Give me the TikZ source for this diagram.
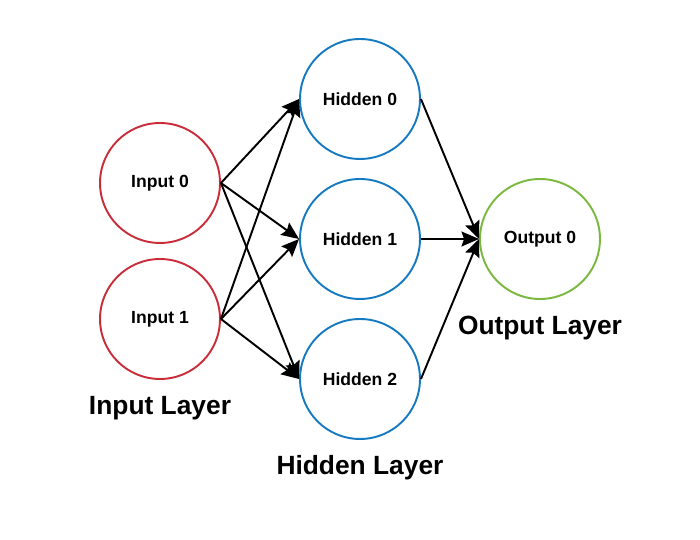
\documentclass[tikz,border=0pt]{standalone}
\usepackage{fontspec}
\setmainfont{Liberation Sans}
\usetikzlibrary{arrows.meta}

\definecolor{inred}{RGB}{201,45,58}
\definecolor{hidblue}{RGB}{22,122,193}
\definecolor{outgreen}{RGB}{122,184,62}

\begin{document}
\begin{tikzpicture}
[
	              x = 0.02cm,
	              y = -0.02cm,
	           >= {Stealth[length=10pt,width=8.5pt,inset=1.5pt]},
	  neuron/.style = { draw, circle, line width=1.1pt, minimum size=2.4cm, inner sep=0pt, font=\fontsize{10}{12}\selectfont\bfseries },
	   layer/.style = { font=\fontsize{15}{18}\selectfont\bfseries },
	    link/.style = { ->, line width=1.1pt }
]
	\useasboundingbox (0,0) rectangle (700,540);

	% input layer
	\node (I0) at (160,183) [neuron, draw=inred] {Input 0};
	\node (I1) at (160,319) [neuron, draw=inred] {Input 1};
	\node (LI) at (160,408) [layer] {Input Layer};

	% hidden layer
	\node (H0) at (360,99) [neuron, draw=hidblue] {Hidden 0};
	\node (H1) at (360,239) [neuron, draw=hidblue] {Hidden 1};
	\node (H2) at (360,379) [neuron, draw=hidblue] {Hidden 2};
	\node (LH) at (360,468) [layer] {Hidden Layer};

	% output layer
	\node (O0) at (540,239) [neuron, draw=outgreen] {Output 0};
	\node (LO) at (540,328) [layer] {Output Layer};

	% edges
	\foreach \i in {I0,I1}
		\foreach \h in {H0,H1,H2}
			\draw [link] (\i.east) -- (\h.west);
	\foreach \h in {H0,H1,H2}
		\draw [link] (\h.east) -- (O0.west);
\end{tikzpicture}
\end{document}
